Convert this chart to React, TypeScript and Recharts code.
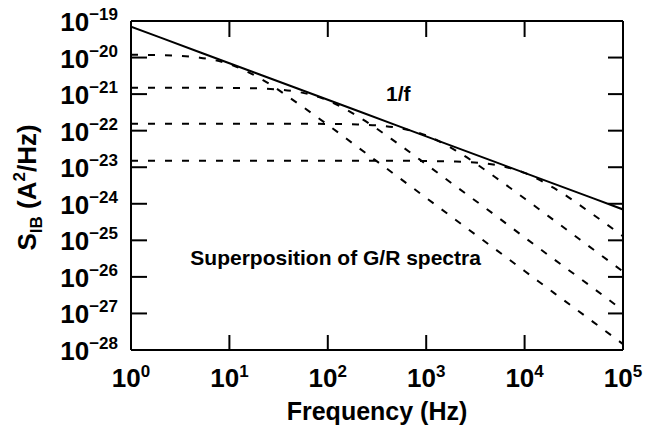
import { LineChart, Line, XAxis, YAxis, ReferenceDot } from 'recharts';

// frequency grid (Hz) the curves were read at
const FREQUENCIES = [1, 2, 5, 10, 20, 50, 100, 200, 500, 1000, 2000, 5000, 10000, 20000, 50000, 100000];

// 1/f envelope (A^2/Hz)
const ONE_OVER_F = [
  7e-20, 3.5e-20, 1.4e-20, 7e-21, 3.5e-21, 1.4e-21, 7e-22, 3.5e-22, 1.4e-22, 7e-23, 3.5e-23, 1.4e-23, 7e-24,
  3.5e-24, 1.4e-24, 7e-25,
];

// individual G/R (Lorentzian) spectra
const GR_1 = [
  1.19e-20, 1.16e-20, 9.9e-21, 6.6e-21, 2.8e-21, 5.5e-22, 1.44e-22, 3.6e-23, 5.8e-24, 1.45e-24, 3.6e-25, 5.8e-26,
  1.45e-26, 3.6e-27, 5.8e-28, 1.45e-28,
];
const GR_2 = [
  1.5e-21, 1.5e-21, 1.49e-21, 1.48e-21, 1.43e-21, 1.15e-21, 6.7e-22, 2.5e-22, 4.7e-23, 1.2e-23, 3.0e-24, 4.9e-25,
  1.2e-25, 3.0e-26, 4.9e-27, 1.2e-27,
];
const GR_3 = [
  1.55e-22, 1.55e-22, 1.55e-22, 1.55e-22, 1.55e-22, 1.55e-22, 1.53e-22, 1.48e-22, 1.21e-22, 7.4e-23, 2.85e-23,
  5.4e-24, 1.39e-24, 3.5e-25, 5.6e-26, 1.4e-26,
];
const GR_4 = [
  1.5e-23, 1.5e-23, 1.5e-23, 1.5e-23, 1.5e-23, 1.5e-23, 1.5e-23, 1.5e-23, 1.5e-23, 1.48e-23, 1.43e-23, 1.16e-23,
  7.0e-24, 2.67e-24, 5.0e-25, 1.29e-25,
];

const X_TICKS = [1, 10, 100, 1000, 10000, 100000];
const Y_TICKS = [1e-28, 1e-27, 1e-26, 1e-25, 1e-24, 1e-23, 1e-22, 1e-21, 1e-20, 1e-19];

const ANNOTATIONS = [
  { f: 520, s: 1e-21, text: '1/f' },
  { f: 120, s: 3.2e-26, text: 'Superposition of G/R spectra' },
];

const FONT = '"Liberation Sans", Arial, Helvetica, sans-serif';

const data = FREQUENCIES.map((f, i) => ({
  f,
  oneOverF: ONE_OVER_F[i],
  gr1: GR_1[i],
  gr2: GR_2[i],
  gr3: GR_3[i],
  gr4: GR_4[i],
}));

function exponent(v: number) {
  const e = Math.round(Math.log10(v));
  return e < 0 ? `\u2212${-e}` : `${e}`;
}

function LeftTick({ x, y, payload }: any) {
  return (
    <g>
      <line x1={x} y1={y} x2={x + 16} y2={y} stroke="#000" strokeWidth={2} />
      <text x={x - 13} y={y + 10} textAnchor="end" fontFamily={FONT} fontWeight="bold" fill="#000">
        <tspan fontSize={26}>10</tspan>
        <tspan fontSize={17} dy={-11}>
          {exponent(payload.value)}
        </tspan>
      </text>
    </g>
  );
}

function BottomTick({ x, y, payload }: any) {
  return (
    <g>
      <line x1={x} y1={y} x2={x} y2={y - 15} stroke="#000" strokeWidth={2} />
      <text x={x} y={y + 37} textAnchor="middle" fontFamily={FONT} fontWeight="bold" fill="#000">
        <tspan fontSize={26}>10</tspan>
        <tspan fontSize={17} dy={-10}>
          {exponent(payload.value)}
        </tspan>
      </text>
    </g>
  );
}

function TopTick({ x, y }: any) {
  return <line x1={x} y1={y} x2={x} y2={y + 16} stroke="#000" strokeWidth={2} />;
}

function RightTick({ x, y }: any) {
  return <line x1={x} y1={y} x2={x - 15} y2={y} stroke="#000" strokeWidth={2} />;
}

function XTitle({ viewBox }: any) {
  return (
    <text
      x={viewBox.x + viewBox.width / 2}
      y={viewBox.y + 70}
      textAnchor="middle"
      fontFamily={FONT}
      fontWeight="bold"
      fontSize={25}
      fill="#000"
    >
      Frequency (Hz)
    </text>
  );
}

function YTitle({ viewBox }: any) {
  const cy = viewBox.y + viewBox.height / 2 + 2;
  return (
    <text
      transform="rotate(-90)"
      x={-cy}
      y={36}
      textAnchor="middle"
      fontFamily={FONT}
      fontWeight="bold"
      fontSize={26}
      fill="#000"
    >
      S
      <tspan fontSize={17} dy={6}>
        IB
      </tspan>
      <tspan dy={-6}> (A</tspan>
      <tspan fontSize={17} dy={-11}>
        2
      </tspan>
      <tspan dy={11}>/Hz)</tspan>
    </text>
  );
}

function Annotation({ viewBox, text }: any) {
  return (
    <text
      x={viewBox.x + viewBox.width / 2}
      y={viewBox.y + viewBox.height / 2 + 7}
      textAnchor="middle"
      fontFamily={FONT}
      fontWeight="bold"
      fontSize={21}
      fill="#000"
    >
      {text}
    </text>
  );
}

export default function App() {
  return (
    <div style={{ position: 'absolute', left: 0, top: 0, background: '#fff' }}>
      <LineChart width={653} height={430} data={data} margin={{ top: 0, right: 0, bottom: 0, left: 0 }}>
        <XAxis
          dataKey="f"
          type="number"
          scale="log"
          domain={[1, 100000]}
          ticks={X_TICKS}
          interval={0}
          allowDataOverflow
          height={80}
          tickSize={0}
          tickMargin={0}
          tickLine={false}
          axisLine={{ stroke: '#000', strokeWidth: 2 }}
          tick={<BottomTick />}
          label={(props: any) => <XTitle {...props} />}
        />
        <XAxis
          xAxisId="top"
          orientation="top"
          dataKey="f"
          type="number"
          scale="log"
          domain={[1, 100000]}
          ticks={X_TICKS}
          interval={0}
          allowDataOverflow
          height={21}
          tickSize={0}
          tickMargin={0}
          tickLine={false}
          axisLine={{ stroke: '#000', strokeWidth: 2 }}
          tick={<TopTick />}
        />
        <YAxis
          type="number"
          scale="log"
          domain={[1e-28, 1e-19]}
          ticks={Y_TICKS}
          interval={0}
          allowDataOverflow
          width={131}
          tickSize={0}
          tickMargin={0}
          tickLine={false}
          axisLine={{ stroke: '#000', strokeWidth: 2 }}
          tick={<LeftTick />}
          label={(props: any) => <YTitle {...props} />}
        />
        <YAxis
          yAxisId="right"
          orientation="right"
          type="number"
          scale="log"
          domain={[1e-28, 1e-19]}
          ticks={Y_TICKS}
          interval={0}
          allowDataOverflow
          width={30}
          tickSize={0}
          tickMargin={0}
          tickLine={false}
          axisLine={{ stroke: '#000', strokeWidth: 2 }}
          tick={<RightTick />}
        />
        {/* invisible copy so the top/right frame axes have a series of their own */}
        <Line
          xAxisId="top"
          yAxisId="right"
          dataKey="oneOverF"
          stroke="transparent"
          dot={false}
          activeDot={false}
          isAnimationActive={false}
        />
        <Line type="linear" dataKey="oneOverF" stroke="#000" strokeWidth={2} dot={false} activeDot={false} isAnimationActive={false} />
        {['gr1', 'gr2', 'gr3', 'gr4'].map((key) => (
          <Line
            key={key}
            type="monotone"
            dataKey={key}
            stroke="#000"
            strokeWidth={2}
            strokeDasharray="7 10"
            dot={false}
            activeDot={false}
            isAnimationActive={false}
          />
        ))}
        {ANNOTATIONS.map((a) => (
          <ReferenceDot
            key={a.text}
            x={a.f}
            y={a.s}
            r={1}
            fill="none"
            stroke="none"
            label={(props: any) => <Annotation {...props} text={a.text} />}
          />
        ))}
      </LineChart>
    </div>
  );
}
